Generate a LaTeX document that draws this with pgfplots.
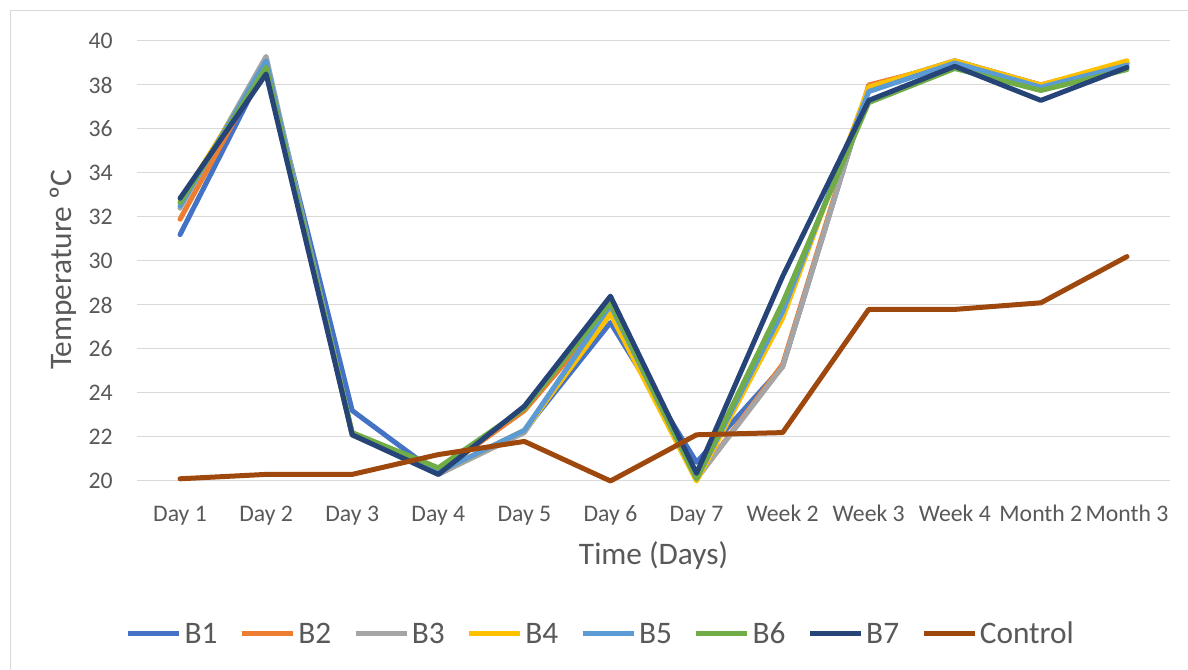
\documentclass[border=0pt]{standalone}
\usepackage{fontspec}
\setmainfont{Carlito}
\usepackage{pgfplots}
\pgfplotsset{compat=1.18}
\usepackage{pgfplotstable}

\definecolor{cB1}{HTML}{4472C4}
\definecolor{cB2}{HTML}{ED7D31}
\definecolor{cB3}{HTML}{A5A5A5}
\definecolor{cB4}{HTML}{FFC000}
\definecolor{cB5}{HTML}{5B9BD5}
\definecolor{cB6}{HTML}{70AD47}
\definecolor{cB7}{HTML}{264478}
\definecolor{cCtl}{HTML}{9E480E}
\definecolor{gridgray}{HTML}{D9D9D9}
\definecolor{textgray}{HTML}{595959}

% Temperature readings (degrees C) at each sampling time
\pgfplotstableread{
t  B1    B2    B3    B4    B5    B6    B7    Ctl
0  31.2  31.9  32.4  32.7  32.5  32.65 32.85 20.1
1  38.9  39.0  39.3  39.0  39.1  38.8  38.5  20.3
2  23.2  22.1  22.1  22.1  22.1  22.2  22.1  20.3
3  20.3  20.4  20.3  20.4  20.4  20.6  20.3  21.2
4  22.3  23.2  22.2  22.3  22.3  23.3  23.4  21.8
5  27.2  27.8  27.9  27.6  28.0  28.1  28.4  20.0
6  20.85 20.1  20.1  20.0  20.1  20.1  20.35 22.1
7  25.2  25.3  25.2  27.4  27.7  28.1  29.3  22.2
8  37.9  38.0  37.9  37.9  37.7  37.2  37.3  27.8
9  39.1  39.0  39.0  39.1  39.0  38.75 38.85 27.8
10 38.0  38.0  37.9  38.0  37.9  37.75 37.3  28.1
11 39.0  39.0  39.0  39.1  38.9  38.7  38.8  30.2
}\temps

\begin{document}
\begin{tikzpicture}
\path[use as bounding box, fill=white] (0,0) rectangle (891pt,502.5pt);
\draw[gridgray, line width=0.75pt] (7.5pt,0) -- (7.5pt,494.25pt) -- (891pt,494.25pt);
\begin{axis}[
  scale only axis,
  width=774.75pt, height=330pt,
  at={(102.75pt,141.75pt)}, anchor=south west,
  xmin=-0.5, xmax=11.5, ymin=20, ymax=40,
  xtick={0,...,11},
  xticklabels={Day 1,Day 2,Day 3,Day 4,Day 5,Day 6,Day 7,Week 2,Week 3,Week 4,Month 2,Month 3},
  ytick={20,22,...,40},
  ymajorgrids,
  grid style={gridgray, line width=0.75pt},
  axis line style={draw=none},
  major tick length=0pt,
  /pgf/number format/assume math mode=true,
  tick label style={font=\fontsize{17.8}{21}\selectfont, text=textgray, inner sep=0pt},
  xticklabel style={anchor=base, yshift=-30.75pt},
  yticklabel style={anchor=east, xshift=-18pt},
  xlabel={Time (Days)},
  ylabel={Temperature ºC},
  label style={font=\fontsize{23.5}{28}\selectfont, text=textgray, inner sep=0pt},
  xlabel style={at={(axis description cs:0.5,0)}, anchor=base, yshift=-63pt},
  ylabel style={at={([xshift=-48.75pt]axis description cs:0,0.48)}, anchor=base, rotate=0},
  clip=false,
  every axis plot/.append style={line width=3.75pt, line join=round, line cap=round, mark=none},
  legend columns=8,
  legend cell align=left,
  legend image code/.code={\draw[#1, line cap=butt] (0pt,0pt) -- (38.25pt,0pt);},
  legend style={at={(axis description cs:-0.01065,-0.3477)}, anchor=west,
    draw=none, fill=none, inner sep=0pt, outer sep=0pt,
    font=\fontsize{23.5}{28}\selectfont, text=textgray,
    nodes={inner sep=0pt},
    /tikz/every odd column/.append style={column sep=2pt},
    /tikz/every even column/.append style={column sep=16.5pt}},
]
\addplot[cB1] table[x=t, y=B1] {\temps};
\addlegendentry{B1}
\addplot[cB2] table[x=t, y=B2] {\temps};
\addlegendentry{B2}
\addplot[cB3] table[x=t, y=B3] {\temps};
\addlegendentry{B3}
\addplot[cB4] table[x=t, y=B4] {\temps};
\addlegendentry{B4}
\addplot[cB5] table[x=t, y=B5] {\temps};
\addlegendentry{B5}
\addplot[cB6] table[x=t, y=B6] {\temps};
\addlegendentry{B6}
\addplot[cB7] table[x=t, y=B7] {\temps};
\addlegendentry{B7}
\addplot[cCtl] table[x=t, y=Ctl] {\temps};
\addlegendentry{Control}
\end{axis}
\end{tikzpicture}
\end{document}
